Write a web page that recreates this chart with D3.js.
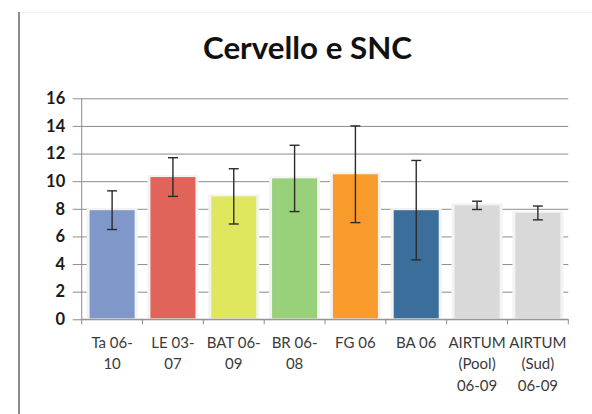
<!DOCTYPE html>
<html><head><meta charset="utf-8">
<script src="https://cdn.jsdelivr.net/npm/d3@7/dist/d3.min.js"></script>
<style>body{margin:0;background:#fff}svg{display:block}</style>
</head><body>
<svg id="c" width="592" height="414"></svg>
<script>
const categories = ["Ta 06-\n10","LE 03-\n07","BAT 06-\n09","BR 06-\n08","FG 06","BA 06","AIRTUM\n(Pool)\n06-09","AIRTUM\n(Sud)\n06-09"];
const values = [7.9, 10.3, 8.9, 10.2, 10.5, 7.9, 8.25, 7.7];
const errors = [1.4, 1.4, 2.0, 2.4, 3.5, 3.6, 0.3, 0.5];
const colors = ["#7f97c9","#e0645a","#dfe75f","#99d07a","#f99b2a","#3c6e9b","#d9d9d9","#d9d9d9"];
const yTicks = [0,2,4,6,8,10,12,14,16];
const title = "Cervello e SNC";

const svg = d3.select("#c");
const m = {l:81.7, r:568.3, t:98.3, b:319.3};
const x = d3.scaleBand().domain(categories).range([m.l, m.r]).paddingInner(0.26).paddingOuter(0.13);
const y = d3.scaleLinear().domain([0,16]).range([m.b, m.t]);

// frame lines
svg.append("line").attr("x1",19).attr("x2",19).attr("y1",12).attr("y2",414).attr("stroke","#8a8a8a").attr("stroke-width",2);
svg.append("line").attr("x1",20).attr("x2",592).attr("y1",12.5).attr("y2",12.5).attr("stroke","#f2f2f2").attr("stroke-width",1);

// title
const tt = svg.append("text").attr("x",307.5).attr("y",59).attr("text-anchor","middle")
  .attr("font-family","Lato, 'Open Sans', sans-serif").attr("font-weight","bold").attr("font-size",29)
  .attr("fill","#111").text(title);
const tw = tt.node().getComputedTextLength();
tt.attr("font-size", 29*209/tw);

// gridlines
const yAxis = d3.axisLeft(y).tickValues(yTicks).tickSize(-(m.r-m.l)).tickSizeOuter(0);
const ga = svg.append("g").attr("transform",`translate(${m.l},0)`).call(yAxis);
ga.select(".domain").remove();
ga.selectAll(".tick line").attr("stroke","#8c8c8c").attr("stroke-width",1).attr("x1",-9);
ga.selectAll(".tick text").attr("font-family","Lato, 'Open Sans', sans-serif").attr("font-weight","bold")
  .attr("font-size",16.5).attr("fill","#1a1a1a").attr("x",-16.5);
// left axis line
svg.append("line").attr("x1",m.l).attr("x2",m.l).attr("y1",m.t).attr("y2",m.b).attr("stroke","#8c8c8c");

// bar halos
svg.selectAll("rect.halo").data(values).join("rect").attr("class","halo")
  .attr("x",(d,i)=>x(categories[i])-3).attr("width",x.bandwidth()+6)
  .attr("y",d=>y(d)-2).attr("height",d=>m.b-y(d)+2).attr("fill","#f3f3f3");
// bars
svg.selectAll("rect.bar").data(values).join("rect").attr("class","bar")
  .attr("x",(d,i)=>x(categories[i])).attr("width",x.bandwidth())
  .attr("y",d=>y(d)).attr("height",d=>m.b-y(d)-1).attr("fill",(d,i)=>colors[i]);

// x axis
svg.append("line").attr("x1",m.l).attr("x2",m.r).attr("y1",m.b).attr("y2",m.b).attr("stroke","#8c8c8c");
const bounds = d3.range(categories.length+1).map(i=>m.l+i*(m.r-m.l)/categories.length);
svg.selectAll("line.xt").data(bounds).join("line").attr("class","xt")
  .attr("x1",d=>d).attr("x2",d=>d).attr("y1",m.b).attr("y2",m.b+5).attr("stroke","#8c8c8c");

// error bars
const eg = svg.append("g").attr("stroke","#2b2b2b").attr("stroke-width",1.4);
values.forEach((v,i)=>{
  const cx = x(categories[i]) + x.bandwidth()/2;
  eg.append("line").attr("x1",cx).attr("x2",cx).attr("y1",y(v+errors[i])).attr("y2",y(v-errors[i]));
  [v+errors[i], v-errors[i]].forEach(e=>{
    eg.append("line").attr("x1",cx-5).attr("x2",cx+5).attr("y1",y(e)).attr("y2",y(e));
  });
});

// x labels
categories.forEach((c,i)=>{
  const cx = x(c) + x.bandwidth()/2;
  const t = svg.append("text").attr("text-anchor","middle").attr("font-family","Lato, 'Open Sans', sans-serif")
    .attr("font-size",15).attr("fill","#3a3a3a");
  c.split("\n").forEach((line,k)=>{
    t.append("tspan").attr("x",cx).attr("y",348+k*21.3).text(line);
  });
});
</script>
</body></html>
